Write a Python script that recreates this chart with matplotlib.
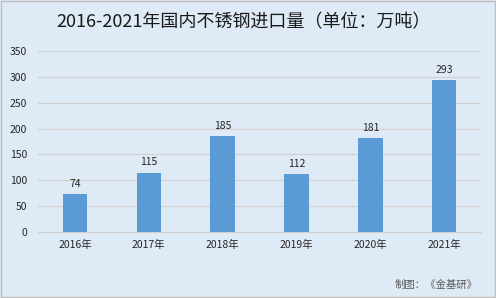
import matplotlib.pyplot as plt
from matplotlib.patches import Rectangle

plt.rcParams['font.family'] = ['Noto Sans CJK SC', 'DejaVu Sans']

years = ['2016年', '2017年', '2018年', '2019年', '2020年', '2021年']
imports = [74, 115, 185, 112, 181, 293]

BG = '#DEEAF6'
BAR = '#5B9BD5'

fig = plt.figure(figsize=(4.96, 2.98), dpi=100, facecolor=BG)
ax = fig.add_axes([0.0766, 0.2215, 0.8934, 0.6075], facecolor=BG)

x = range(len(years))
ax.bar(x, imports, width=0.33, color=BAR, zorder=3)
for xi, v in zip(x, imports):
    ax.text(xi, v + 10, str(v), ha='center', va='bottom', fontsize=7.5, color='#262626')

ax.set_xlim(-0.5, len(years) - 0.5)
ax.set_ylim(0, 350)
ax.set_yticks(range(0, 351, 50))
ax.set_xticks(list(x))
ax.set_xticklabels(years)
ax.tick_params(axis='both', length=0, labelsize=7.5, colors='#262626')
ax.tick_params(axis='x', pad=6)
ax.tick_params(axis='y', pad=8)
ax.grid(axis='y', color='#D0D0D0', linewidth=0.8, zorder=0)
for s in ['top', 'right', 'left']:
    ax.spines[s].set_visible(False)
ax.spines['bottom'].set_color('#D0D0D0')

fig.text(0.49, 0.925, '2016-2021年国内不锈钢进口量（单位：万吨）', ha='center', va='center',
         fontsize=13, color='#1a1a1a')
fig.text(0.963, 0.045, '制图：《金基研》', ha='right', va='center', fontsize=7.5, color='#595959')

fig.patches.append(Rectangle((0.002, 0.003), 0.995, 0.994, transform=fig.transFigure,
                             fill=False, edgecolor='#BFBFBF', linewidth=1))

fig.savefig('out.png', dpi=100, facecolor=BG)
